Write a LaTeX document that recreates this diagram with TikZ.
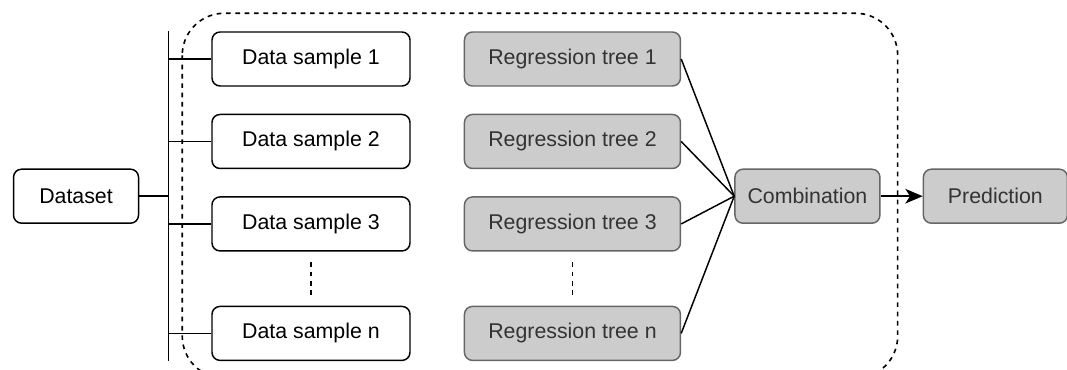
\documentclass[tikz,border=0pt]{standalone}
\usepackage{fontspec}
\setmainfont{Liberation Sans}
\usepackage{xcolor}
\usepackage{tikz}
\usetikzlibrary{calc,positioning,arrows.meta}
\definecolor{rfgray}{HTML}{CCCCCC}
\definecolor{rfedge}{HTML}{666666}
\definecolor{rftext}{HTML}{333333}

\begin{document}
\begin{tikzpicture}[node distance=20.25pt and 39.75pt,
  wbox/.style={draw=black,line width=1.1pt,rounded corners=6pt,fill=white,inner sep=0pt,
  minimum width=148.5pt,minimum height=40.5pt,font=\fontsize{16}{19}\selectfont},
  gbox/.style={wbox,draw=rfedge,fill=rfgray,text=rftext,minimum width=162pt},
  link/.style={line width=1.1pt,black},
  dots/.style={line width=1.2pt,dash pattern=on 3.5pt off 3.5pt}]
\useasboundingbox (0,0) rectangle (800.25pt,-277.5pt);
% data samples
\node[wbox] (s1) at (233.25pt,-44.25pt) {Data sample 1};
\node[wbox,below=of s1] (s2) {Data sample 2};
\node[wbox,below=of s2] (s3) {Data sample 3};
\node[wbox,below=40.5pt of s3] (sn) {Data sample n};
% regression trees
\node[gbox,right=of s1] (t1) {Regression tree 1};
\node[gbox,right=of s2] (t2) {Regression tree 2};
\node[gbox,right=of s3] (t3) {Regression tree 3};
\node[gbox,right=of sn] (tn) {Regression tree n};
% dataset and outputs
\coordinate (mid) at ($(s1.west)!0.5!(sn.west)$);
\node[wbox,minimum width=93.75pt,left=54pt of mid] (ds) {Dataset};
\coordinate (tmid) at ($(t1.east)!0.5!(tn.east)$);
\node[gbox,minimum width=108.75pt,right=of tmid] (comb) {Combination};
\node[gbox,minimum width=108pt,right=31.5pt of comb] (pred) {Prediction};
% bus
\coordinate (bt) at ($(s1.north west)+(-32.25pt,0)$);
\coordinate (bb) at ($(sn.south west)+(-32.25pt,0)$);
\draw[link] (bt) -- (bb);
\draw[link] (ds.east) -- (ds.east -| bt);
\foreach \s in {s1,s2,s3,sn} \draw[link] (\s.west) -- (\s.west -| bt);
% trees to combination
\foreach \t in {t1,t2,t3,tn} \draw[link] (\t.east) -- (comb.west);
\draw[link,-{Stealth[length=13pt,width=11pt,inset=3.5pt]}] (comb) -- (pred);
% ellipsis
\draw[dots,shorten <=8pt,shorten >=6pt] (s3) -- (sn);
\draw[dots,shorten <=8pt,shorten >=6pt] (t3) -- (tn);
% ensemble frame
\draw[dots,rounded corners=31.5pt] ($(s1.north west)+(-21.75pt,13.5pt)$) rectangle ($(comb.east |- sn.south)+(12.75pt,-12.75pt)$);
\end{tikzpicture}
\end{document}
